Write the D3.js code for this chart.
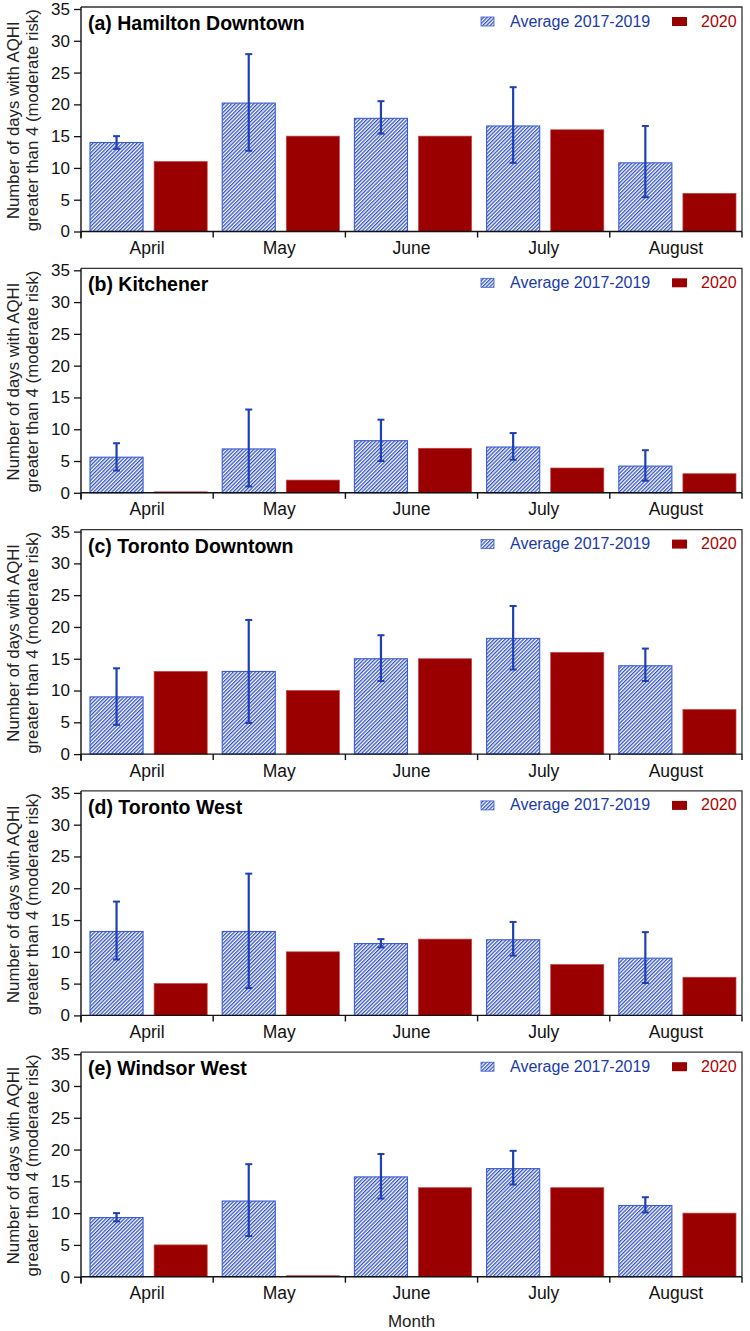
<!DOCTYPE html>
<html>
<head>
<meta charset="utf-8">
<script src="https://cdn.jsdelivr.net/npm/d3@7/dist/d3.min.js"></script>
<style>
  html, body { margin: 0; padding: 0; background: #fff; }
  svg { display: block; font-family: "Liberation Sans", Arial, Helvetica, sans-serif; }
</style>
</head>
<body>
<svg id="chart" width="750" height="1331"></svg>
<script>
// ---------------- data ----------------
const months = ["April", "May", "June", "July", "August"];
const stationTitles = ["(a) Hamilton Downtown", "(b) Kitchener", "(c) Toronto Downtown", "(d) Toronto West", "(e) Windsor West"];
const yTicks = [0, 5, 10, 15, 20, 25, 30, 35];
const legendLabels = ["Average 2017-2019", "2020"];

// Average 2017-2019 values, error bar low / high, and 2020 values per station
const avgHamilton   = [14.0, 20.2, 17.8, 16.6, 10.8];
const lowHamilton   = [13.0, 12.7, 15.4, 10.8, 5.4];
const highHamilton  = [15.0, 27.9, 20.5, 22.7, 16.6];
const y2020Hamilton = [11, 15, 15, 16, 6];

const avgKitchener   = [5.6, 6.9, 8.2, 7.2, 4.2];
const lowKitchener   = [3.5, 1.0, 5.0, 5.2, 1.9];
const highKitchener  = [7.8, 13.1, 11.5, 9.4, 6.7];
const y2020Kitchener = [0.15, 2, 7, 3.9, 3];

const avgTorontoDT   = [9.0, 13.0, 15.0, 18.2, 13.9];
const lowTorontoDT   = [4.6, 4.9, 11.5, 13.3, 11.5];
const highTorontoDT  = [13.5, 21.1, 18.7, 23.3, 16.6];
const y2020TorontoDT = [13, 10, 15, 16, 7];

const avgTorontoW   = [13.2, 13.2, 11.3, 11.9, 9.0];
const lowTorontoW   = [8.8, 4.3, 10.7, 9.4, 5.1];
const highTorontoW  = [17.9, 22.3, 12.0, 14.7, 13.1];
const y2020TorontoW = [5, 10, 12, 8, 6];

const avgWindsor   = [9.3, 11.9, 15.7, 17.0, 11.2];
const lowWindsor   = [8.7, 6.4, 12.3, 14.5, 10.1];
const highWindsor  = [10.0, 17.7, 19.3, 19.8, 12.5];
const y2020Windsor = [5, 0.15, 14, 14, 10];

const avgSets   = [avgHamilton, avgKitchener, avgTorontoDT, avgTorontoW, avgWindsor];
const lowSets   = [lowHamilton, lowKitchener, lowTorontoDT, lowTorontoW, lowWindsor];
const highSets  = [highHamilton, highKitchener, highTorontoDT, highTorontoW, highWindsor];
const y2020Sets = [y2020Hamilton, y2020Kitchener, y2020TorontoDT, y2020TorontoW, y2020Windsor];

// ---------------- layout ----------------
const plotLeft = 81, plotRight = 742;
const firstTop = 9, panelStep = 261.3, panelH = 222.5;
const blue = "#1f3fb8", blueLine = "#3352c8", red = "#9b0000";
const legendBlue = "#1a3aad", legendRed = "#b00000";

const svg = d3.select("#chart");

const defs = svg.append("defs");
const P = 2.6;
const pat = defs.append("pattern")
  .attr("id", "hatch")
  .attr("patternUnits", "userSpaceOnUse")
  .attr("width", P).attr("height", P)
  .attr("patternTransform", "rotate(45)");
pat.append("rect").attr("width", P).attr("height", P).attr("fill", "#ffffff");
pat.append("line").attr("x1", 0.65).attr("y1", 0).attr("x2", 0.65).attr("y2", P)
  .attr("stroke", blueLine).attr("stroke-width", 1.3);

const x = d3.scaleBand().domain(months).range([plotLeft, plotRight]).padding(0);
const sub = d3.scaleBand().domain(["avg", "y2020"]).range([0, x.bandwidth()])
  .paddingInner(0.172).paddingOuter(0.117).align(0.6);

stationTitles.forEach((title, i) => {
  const top = firstTop + i * panelStep;
  const bottom = top + panelH;
  const y = d3.scaleLinear().domain([0, 35]).range([bottom, top]);
  const g = svg.append("g");

  // frame (top and right)
  g.append("path")
    .attr("d", `M${plotLeft},${top - 2}H${plotRight}V${bottom}`)
    .attr("fill", "none").attr("stroke", "#333").attr("stroke-width", 1.3);

  const avg = avgSets[i], lo = lowSets[i], hi = highSets[i], v20 = y2020Sets[i];

  // average bars (hatched)
  g.selectAll(".avg").data(months).join("rect")
    .attr("x", m => x(m) + sub("avg"))
    .attr("width", sub.bandwidth())
    .attr("y", (m, k) => y(avg[k]))
    .attr("height", (m, k) => y(0) - y(avg[k]))
    .attr("fill", "url(#hatch)")
    .attr("stroke", "#3a5cd0").attr("stroke-width", 1.1);

  // 2020 bars
  g.selectAll(".y20").data(months).join("rect")
    .attr("x", m => x(m) + sub("y2020"))
    .attr("width", sub.bandwidth())
    .attr("y", (m, k) => y(v20[k]))
    .attr("height", (m, k) => y(0) - y(v20[k]))
    .attr("fill", red)
    .attr("stroke", "#c44040").attr("stroke-width", 0.7);

  // error bars
  const eb = g.selectAll(".eb").data(months).join("g")
    .attr("transform", m => `translate(${x(m) + sub("avg") + sub.bandwidth() / 2},0)`);
  eb.append("line").attr("x1", 0).attr("x2", 0)
    .attr("y1", (m, k) => y(lo[k])).attr("y2", (m, k) => y(hi[k]))
    .attr("stroke", blue).attr("stroke-width", 2.2);
  eb.append("line").attr("x1", -3.5).attr("x2", 3.5)
    .attr("y1", (m, k) => y(hi[k])).attr("y2", (m, k) => y(hi[k]))
    .attr("stroke", blue).attr("stroke-width", 2);
  eb.append("line").attr("x1", -3.5).attr("x2", 3.5)
    .attr("y1", (m, k) => y(lo[k])).attr("y2", (m, k) => y(lo[k]))
    .attr("stroke", blue).attr("stroke-width", 2);

  // y axis
  const ya = g.append("g").attr("transform", `translate(${plotLeft},0)`)
    .call(d3.axisLeft(y).tickValues(yTicks).tickSize(7).tickPadding(4));
  ya.select(".domain").attr("d", `M0,${top - 2}V${bottom + 7}`).attr("stroke", "#111").attr("stroke-width", 1.4);
  ya.selectAll(".tick line").attr("stroke", "#111").attr("stroke-width", 1.3);
  ya.selectAll(".tick text").attr("font-size", 17).attr("fill", "#111")
    .attr("font-family", "Liberation Sans, Arial, sans-serif");

  // x axis
  const xa = g.append("g").attr("transform", `translate(0,${bottom})`)
    .call(d3.axisBottom(x).tickSize(0).tickPadding(10));
  xa.select(".domain").attr("d", `M${plotLeft},0H${plotRight}`).attr("stroke", "#111").attr("stroke-width", 1.4);
  xa.selectAll(".tick text").attr("font-size", 17.5).attr("fill", "#111")
    .attr("font-family", "Liberation Sans, Arial, sans-serif");
  const bounds = months.map(m => x(m)).concat([x.range()[1]]);
  xa.selectAll(".bnd").data(bounds).join("line")
    .attr("x1", d => d).attr("x2", d => d).attr("y1", 0).attr("y2", 6)
    .attr("stroke", "#111").attr("stroke-width", 1.4);

  // title
  g.append("text").attr("x", 88).attr("y", top + 21)
    .attr("font-size", 19.5).attr("font-weight", "bold").attr("fill", "#000")
    .text(title);

  // legend
  const ly = top + 8;
  g.append("rect").attr("x", 481).attr("y", ly).attr("width", 13).attr("height", 9)
    .attr("fill", "url(#hatch)").attr("stroke", "#3a5cd0").attr("stroke-width", 0.8);
  g.append("text").attr("x", 510).attr("y", ly + 9.5)
    .attr("font-size", 16).attr("fill", legendBlue).text(legendLabels[0]);
  g.append("rect").attr("x", 672).attr("y", ly).attr("width", 15).attr("height", 9)
    .attr("fill", red);
  g.append("text").attr("x", 701).attr("y", ly + 9.5)
    .attr("font-size", 16).attr("fill", legendRed).text(legendLabels[1]);

  // y-axis title (two lines)
  const cy = (top + bottom) / 2;
  const yt = g.append("text")
    .attr("transform", `translate(18.5,${cy}) rotate(-90)`)
    .attr("text-anchor", "middle").attr("font-size", 16.8).attr("fill", "#222");
  yt.append("tspan").attr("x", 0).attr("dy", 0).text("Number of days with AQHI");
  yt.append("tspan").attr("x", 0).attr("dy", 19).text("greater than 4 (moderate risk)");
});

// x-axis title
svg.append("text").attr("x", (plotLeft + plotRight) / 2).attr("y", 1327)
  .attr("text-anchor", "middle").attr("font-size", 17).attr("fill", "#222").text("Month");
</script>
</body>
</html>
